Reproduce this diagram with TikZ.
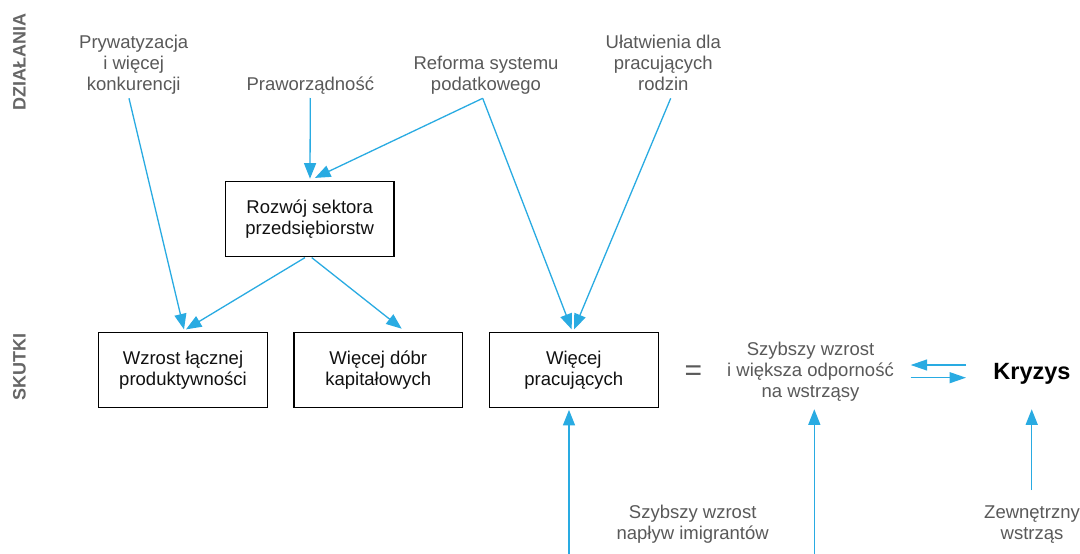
\documentclass[tikz,border=0pt]{standalone}
\usepackage{fontspec}
\setmainfont{Liberation Sans}
\usetikzlibrary{arrows.meta,calc}
\definecolor{arrblue}{HTML}{29ABE2}
\definecolor{txtgray}{HTML}{595959}
\definecolor{lblgray}{HTML}{666666}
\definecolor{boxtxt}{HTML}{111111}
\begin{document}
\begin{tikzpicture}[x=1pt,y=-1pt,
  gtext/.style={text=txtgray, font=\fontsize{18.5}{20.6}\selectfont, align=center, inner sep=0pt, anchor=base},
  boxnode/.style={draw=black, line width=1.2pt, minimum width=168.6pt, minimum height=75.4pt, align=center, font=\fontsize{18.5}{20.6}\selectfont, text=boxtxt, inner sep=0pt},
  side/.style={text=lblgray, font=\fontsize{18}{20}\selectfont\bfseries, rotate=90, inner sep=0pt},
  arr/.style={draw=arrblue, line width=1.3pt, -{Triangle[length=15.5pt,width=12pt]}},
  sarr/.style={draw=arrblue, line width=1.3pt, -{Triangle[length=16.5pt,width=11pt]}},
]
\useasboundingbox[fill=white] (0,0) rectangle (1080,554);
% side labels
\node[side] (dzialania) at (19.5,62) {DZIAŁANIA};
\node[side] (skutki) at (19.5,367) {SKUTKI};
% actions (base = baseline of the last line)
\node[gtext] (pryw) at (133.7,90) {Prywatyzacja\\i więcej\\konkurencji};
\node[gtext] (praw) at (310.3,90) {Praworządność};
\node[gtext] (reforma) at (486,90) {Reforma systemu\\podatkowego};
\node[gtext] (ulatw) at (663.3,90) {Ułatwienia dla\\pracujących\\rodzin};
% boxes
\node[boxnode] (rozwoj) at (309.7,218.9) {Rozwój sektora\\przedsiębiorstw};
\node[boxnode] (wzrost) at (183,370) {Wzrost łącznej\\produktywności};
\node[boxnode] (dobr) at (378.3,370) {Więcej dóbr\\kapitałowych};
\node[boxnode] (pracuj) at (573.8,370) {Więcej\\pracujących};
% right part
\node[text=txtgray, font=\fontsize{30}{30}\selectfont, inner sep=0pt] (eq) at (693.4,373) {=};
\node[gtext] (szybszy) at (810.5,397) {Szybszy wzrost\\i większa odporność\\na wstrząsy};
\node[anchor=base, inner sep=0pt, font=\fontsize{23.5}{26}\selectfont\bfseries, text=black] (kryzys) at (1032,379.3) {Kryzys};
\node[gtext] (imigr) at (692.7,539.1) {Szybszy wzrost\\napływ imigrantów};
\node[gtext] (zewn) at (1032,539.1) {Zewnętrzny\\wstrząs};
\coordinate (bot1) at (569,554);
\coordinate (bot2) at (814.3,554);
% connectors
\draw[arr] ($(pryw.base)+(-4.7,8.3)$) -- ($(wzrost.north)+(1,-2.3)$);
\draw[arr] ($(praw.base)+(0,8)$) -- ($(rozwoj.north)+(0.3,-1.9)$);
\draw[arr] ($(reforma.base)+(-3.3,8.3)$) -- ($(rozwoj.north)+(5.3,-2.7)$);
\draw[arr] ($(reforma.base)+(-3.3,8.3)$) -- ($(pracuj.north)+(-2.1,-2.3)$);
\draw[arr] ($(ulatw.base)+(7.4,8.3)$) -- ($(pracuj.north)+(0.2,-2.3)$);
\draw[arr] ($(rozwoj.south)+(-4.7,0.4)$) -- ($(wzrost.north)+(3,-2.3)$);
\draw[arr] ($(rozwoj.south)+(2,0.4)$) -- ($(dobr.north)+(23.4,-3)$);
\draw[arr] (bot1) -- ($(pracuj.south)+(-4.8,1.6)$);
\draw[arr] (bot2) -- ($(szybszy.base)+(3.8,12.3)$);
\draw[arr] ($(zewn.base)+(-0.3,-49.1)$) -- ($(kryzys.base)+(-0.3,30)$);
\draw[sarr] ($(kryzys.base)+(-66,-14.3)$) -- ($(szybszy.base)+(100.2,-32)$);
\draw[sarr] ($(szybszy.base)+(100.2,-19.3)$) -- ($(kryzys.base)+(-66,-1.6)$);
\end{tikzpicture}
\end{document}
